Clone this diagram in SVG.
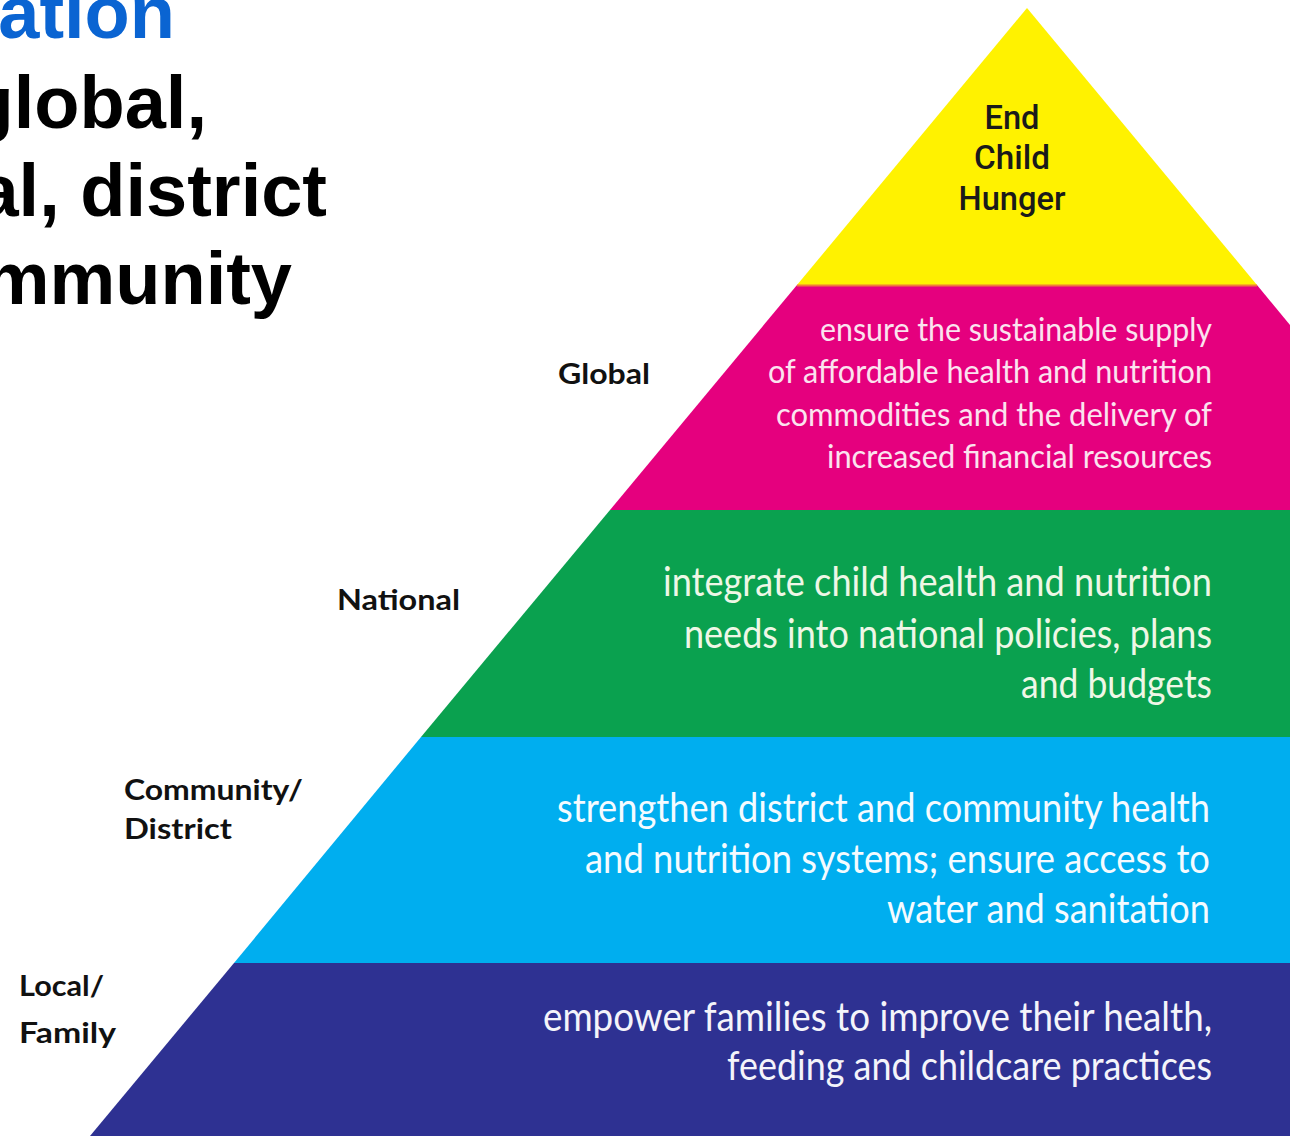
<svg xmlns="http://www.w3.org/2000/svg" width="1290" height="1136" viewBox="0 0 1290 1136">
<style>
.title{font-family:"Liberation Sans",Arial,sans-serif;font-weight:bold;font-size:74px;text-anchor:end}
.lbl{font-family:"Lato","Open Sans",sans-serif;font-weight:bold;font-size:28px;fill:#111}
.band{font-family:"Lato","Open Sans",sans-serif;font-weight:400;text-anchor:end}
.top{font-family:"Roboto","Liberation Sans",sans-serif;font-weight:500;font-size:33px;fill:#1a1a1a;text-anchor:middle}
</style>
<rect width="1290" height="1136" fill="#ffffff"/>
<g id="title">
<text class="title" x="175" y="38" fill="#0a64d2">ation</text>
<text class="title" x="207" y="128" fill="#000">global,</text>
<text class="title" x="327" y="216" fill="#000">al, district</text>
<text class="title" x="292" y="304" fill="#000">mmunity</text>
</g>
<g id="connectors"></g>
<g id="level-top">
<polygon points="1027,8 797,285 1257,285" fill="#fff200"/>
<text class="top" x="1012" y="129" textLength="55" lengthAdjust="spacingAndGlyphs">End</text>
<text class="top" x="1012" y="169" textLength="76" lengthAdjust="spacingAndGlyphs">Child</text>
<text class="top" x="1012" y="210" textLength="107" lengthAdjust="spacingAndGlyphs">Hunger</text>
</g>
<g id="level-global">
<polygon points="797,285 1257,285 1290,325 1290,510 610,510" fill="#e5007e"/>
<line x1="797" y1="285.5" x2="1257" y2="285.5" stroke="#f07a3a" stroke-width="2"/>
<g class="band" font-size="33" fill="#fbe3ef">
<text x="1212" y="341" textLength="392" lengthAdjust="spacingAndGlyphs">ensure the sustainable supply</text>
<text x="1212" y="383" textLength="444" lengthAdjust="spacingAndGlyphs">of affordable health and nutrition</text>
<text x="1212" y="426" textLength="436" lengthAdjust="spacingAndGlyphs">commodities and the delivery of</text>
<text x="1212" y="468" textLength="385" lengthAdjust="spacingAndGlyphs">increased financial resources</text>
</g>
<text class="lbl" x="558" y="384" textLength="92" lengthAdjust="spacingAndGlyphs">Global</text>
</g>
<g id="level-national">
<polygon points="610,510 1290,510 1290,737 421,737" fill="#0aa14f"/>
<g class="band" font-size="40" fill="#eef7e6">
<text x="1212" y="596" textLength="549" lengthAdjust="spacingAndGlyphs">integrate child health and nutrition</text>
<text x="1212" y="648" textLength="528" lengthAdjust="spacingAndGlyphs">needs into national policies, plans</text>
<text x="1212" y="698" textLength="191" lengthAdjust="spacingAndGlyphs">and budgets</text>
</g>
<text class="lbl" x="337" y="610" textLength="123" lengthAdjust="spacingAndGlyphs">National</text>
</g>
<g id="level-community">
<polygon points="421,737 1290,737 1290,963 234,963" fill="#00aeef"/>
<g class="band" font-size="40" fill="#f4fbff">
<text x="1210" y="822" textLength="653" lengthAdjust="spacingAndGlyphs">strengthen district and community health</text>
<text x="1210" y="873" textLength="625" lengthAdjust="spacingAndGlyphs">and nutrition systems; ensure access to</text>
<text x="1210" y="923" textLength="323" lengthAdjust="spacingAndGlyphs">water and sanitation</text>
</g>
<text class="lbl" x="124" y="800" textLength="179" lengthAdjust="spacingAndGlyphs">Community/</text>
<text class="lbl" x="124" y="839" textLength="108" lengthAdjust="spacingAndGlyphs">District</text>
</g>
<g id="level-local">
<polygon points="234,963 1290,963 1290,1136 90,1136" fill="#2e3192"/>
<g class="band" font-size="40" fill="#f4f4fa">
<text x="1212" y="1031" textLength="669" lengthAdjust="spacingAndGlyphs">empower families to improve their health,</text>
<text x="1212" y="1080" textLength="485" lengthAdjust="spacingAndGlyphs">feeding and childcare practices</text>
</g>
<text class="lbl" x="19" y="996" textLength="85" lengthAdjust="spacingAndGlyphs">Local/</text>
<text class="lbl" x="19" y="1043" textLength="97" lengthAdjust="spacingAndGlyphs">Family</text>
</g>
</svg>
